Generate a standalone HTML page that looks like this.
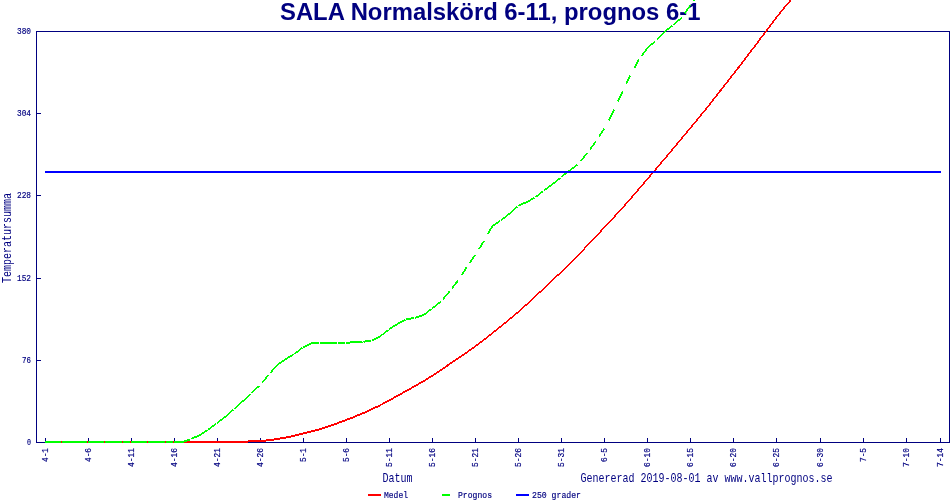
<!DOCTYPE html>
<html lang="sv"><head><meta charset="utf-8"><title>SALA Normalskörd 6-11, prognos 6-1</title>
<style>html,body{margin:0;padding:0;background:#fff;width:950px;height:500px;overflow:hidden}</style></head>
<body>
<svg width="950" height="500" viewBox="0 0 950 500" style="position:absolute;left:0;top:0;display:block">
<rect width="950" height="500" fill="#fff"/>
<g fill="#000080" shape-rendering="crispEdges">
<rect x="36" y="31" width="914" height="1"/>
<rect x="36" y="442" width="914" height="1"/>
<rect x="36" y="31" width="1" height="412"/>
<rect x="949" y="31" width="1" height="412"/>
<rect x="37" y="31" width="4" height="1"/>
<rect x="37" y="113" width="4" height="1"/>
<rect x="37" y="195" width="4" height="1"/>
<rect x="37" y="278" width="4" height="1"/>
<rect x="37" y="360" width="4" height="1"/>
<rect x="37" y="442" width="4" height="1"/>
<rect x="45" y="438" width="1" height="4"/>
<rect x="88" y="438" width="1" height="4"/>
<rect x="131" y="438" width="1" height="4"/>
<rect x="174" y="438" width="1" height="4"/>
<rect x="217" y="438" width="1" height="4"/>
<rect x="260" y="438" width="1" height="4"/>
<rect x="303" y="438" width="1" height="4"/>
<rect x="346" y="438" width="1" height="4"/>
<rect x="389" y="438" width="1" height="4"/>
<rect x="432" y="438" width="1" height="4"/>
<rect x="475" y="438" width="1" height="4"/>
<rect x="518" y="438" width="1" height="4"/>
<rect x="561" y="438" width="1" height="4"/>
<rect x="604" y="438" width="1" height="4"/>
<rect x="647" y="438" width="1" height="4"/>
<rect x="690" y="438" width="1" height="4"/>
<rect x="733" y="438" width="1" height="4"/>
<rect x="776" y="438" width="1" height="4"/>
<rect x="820" y="438" width="1" height="4"/>
<rect x="863" y="438" width="1" height="4"/>
<rect x="906" y="438" width="1" height="4"/>
<rect x="940" y="438" width="1" height="4"/>
</g>
<text fill="#000080" x="280" y="20" font-family="'Liberation Sans',Arial,sans-serif" font-weight="bold" font-size="23.85">SALA Normalskörd 6-11, prognos 6-1</text>
<g stroke="#ff0000" fill="none" shape-rendering="crispEdges"><line x1="45.0" y1="442.0" x2="53.9" y2="442.0" stroke-width="2.00"/><line x1="53.6" y1="442.0" x2="62.5" y2="442.0" stroke-width="2.00"/><line x1="62.2" y1="442.0" x2="71.1" y2="442.0" stroke-width="2.00"/><line x1="70.8" y1="442.0" x2="79.7" y2="442.0" stroke-width="2.00"/><line x1="79.4" y1="442.0" x2="88.3" y2="442.0" stroke-width="2.00"/><line x1="88.0" y1="442.0" x2="96.9" y2="442.0" stroke-width="2.00"/><line x1="96.6" y1="442.0" x2="105.5" y2="442.0" stroke-width="2.00"/><line x1="105.2" y1="442.0" x2="114.1" y2="442.0" stroke-width="2.00"/><line x1="113.8" y1="442.0" x2="122.8" y2="442.0" stroke-width="2.00"/><line x1="122.5" y1="442.0" x2="131.4" y2="442.0" stroke-width="2.00"/><line x1="131.1" y1="442.0" x2="140.0" y2="442.0" stroke-width="2.00"/><line x1="139.7" y1="442.0" x2="148.6" y2="442.0" stroke-width="2.00"/><line x1="148.3" y1="442.0" x2="157.2" y2="442.0" stroke-width="2.00"/><line x1="156.9" y1="442.0" x2="165.8" y2="442.0" stroke-width="2.00"/><line x1="165.5" y1="442.0" x2="174.4" y2="442.0" stroke-width="2.00"/><line x1="174.1" y1="442.0" x2="183.0" y2="442.0" stroke-width="2.00"/><line x1="182.7" y1="442.0" x2="191.6" y2="442.0" stroke-width="2.00"/><line x1="191.3" y1="442.0" x2="200.2" y2="442.0" stroke-width="2.00"/><line x1="199.9" y1="442.0" x2="208.8" y2="442.0" stroke-width="2.00"/><line x1="208.5" y1="442.0" x2="217.4" y2="442.0" stroke-width="2.00"/><line x1="217.1" y1="442.0" x2="226.0" y2="442.0" stroke-width="2.00"/><line x1="225.7" y1="442.0" x2="234.6" y2="442.0" stroke-width="2.00"/><line x1="234.3" y1="442.0" x2="243.2" y2="442.0" stroke-width="2.00"/><line x1="242.9" y1="442.0" x2="251.8" y2="441.1" stroke-width="1.99"/><line x1="251.5" y1="441.2" x2="260.4" y2="441.1" stroke-width="2.00"/><line x1="260.1" y1="441.1" x2="269.0" y2="440.2" stroke-width="1.99"/><line x1="268.8" y1="440.2" x2="277.7" y2="438.9" stroke-width="1.98"/><line x1="277.4" y1="438.9" x2="286.3" y2="437.6" stroke-width="1.98"/><line x1="286.0" y1="437.6" x2="294.9" y2="435.6" stroke-width="1.95"/><line x1="294.6" y1="435.6" x2="303.5" y2="433.4" stroke-width="1.94"/><line x1="303.2" y1="433.5" x2="312.1" y2="431.3" stroke-width="1.94"/><line x1="311.8" y1="431.4" x2="320.7" y2="428.9" stroke-width="1.93"/><line x1="320.4" y1="429.0" x2="329.3" y2="426.2" stroke-width="1.90"/><line x1="329.0" y1="426.3" x2="337.9" y2="423.1" stroke-width="1.89"/><line x1="337.6" y1="423.2" x2="346.5" y2="419.9" stroke-width="1.87"/><line x1="346.2" y1="420.0" x2="355.1" y2="416.5" stroke-width="1.86"/><line x1="354.8" y1="416.6" x2="363.7" y2="412.8" stroke-width="1.84"/><line x1="363.4" y1="413.0" x2="372.3" y2="409.1" stroke-width="1.83"/><line x1="372.0" y1="409.2" x2="380.9" y2="404.9" stroke-width="1.80"/><line x1="380.6" y1="405.0" x2="389.5" y2="400.3" stroke-width="1.76"/><line x1="389.2" y1="400.4" x2="398.1" y2="395.5" stroke-width="1.75"/><line x1="397.8" y1="395.6" x2="406.7" y2="390.7" stroke-width="1.75"/><line x1="406.4" y1="390.9" x2="415.3" y2="385.9" stroke-width="1.75"/><line x1="415.0" y1="386.1" x2="423.9" y2="380.9" stroke-width="1.73"/><line x1="423.7" y1="381.1" x2="432.5" y2="375.6" stroke-width="1.70"/><line x1="432.3" y1="375.8" x2="441.1" y2="369.9" stroke-width="1.67"/><line x1="440.9" y1="370.1" x2="449.7" y2="364.0" stroke-width="1.65"/><line x1="449.5" y1="364.1" x2="458.3" y2="358.1" stroke-width="1.66"/><line x1="458.1" y1="358.3" x2="466.9" y2="352.3" stroke-width="1.66"/><line x1="466.7" y1="352.5" x2="475.5" y2="346.2" stroke-width="1.63"/><line x1="475.3" y1="346.4" x2="484.1" y2="339.7" stroke-width="1.59"/><line x1="483.9" y1="339.9" x2="492.7" y2="332.9" stroke-width="1.57"/><line x1="492.5" y1="333.1" x2="501.3" y2="326.0" stroke-width="1.56"/><line x1="501.1" y1="326.2" x2="509.9" y2="319.0" stroke-width="1.55"/><line x1="509.7" y1="319.2" x2="518.5" y2="311.7" stroke-width="1.52"/><line x1="518.3" y1="311.9" x2="527.1" y2="304.0" stroke-width="1.49"/><line x1="526.9" y1="304.2" x2="535.7" y2="296.0" stroke-width="1.47"/><line x1="535.5" y1="296.2" x2="544.4" y2="288.0" stroke-width="1.46"/><line x1="544.1" y1="288.2" x2="553.0" y2="279.9" stroke-width="1.45"/><line x1="552.7" y1="280.1" x2="561.6" y2="271.6" stroke-width="1.44"/><line x1="561.3" y1="271.8" x2="570.2" y2="263.2" stroke-width="1.43"/><line x1="570.0" y1="263.4" x2="578.8" y2="254.5" stroke-width="1.42"/><line x1="578.6" y1="254.7" x2="587.4" y2="245.5" stroke-width="1.44"/><line x1="587.2" y1="245.7" x2="596.0" y2="236.4" stroke-width="1.46"/><line x1="595.8" y1="236.6" x2="604.6" y2="227.1" stroke-width="1.46"/><line x1="604.4" y1="227.4" x2="613.2" y2="218.0" stroke-width="1.46"/><line x1="613.0" y1="218.2" x2="621.8" y2="208.7" stroke-width="1.47"/><line x1="621.6" y1="208.9" x2="630.4" y2="198.9" stroke-width="1.50"/><line x1="630.2" y1="199.1" x2="639.0" y2="188.8" stroke-width="1.52"/><line x1="638.8" y1="189.0" x2="647.6" y2="178.8" stroke-width="1.52"/><line x1="647.4" y1="179.0" x2="656.2" y2="168.8" stroke-width="1.52"/><line x1="656.0" y1="169.0" x2="664.8" y2="158.6" stroke-width="1.53"/><line x1="664.6" y1="158.8" x2="673.4" y2="148.4" stroke-width="1.53"/><line x1="673.2" y1="148.6" x2="682.0" y2="138.1" stroke-width="1.53"/><line x1="681.8" y1="138.3" x2="690.6" y2="127.8" stroke-width="1.53"/><line x1="690.4" y1="128.0" x2="699.2" y2="117.4" stroke-width="1.54"/><line x1="699.0" y1="117.6" x2="707.8" y2="106.7" stroke-width="1.56"/><line x1="707.6" y1="107.0" x2="716.4" y2="95.8" stroke-width="1.57"/><line x1="716.2" y1="96.0" x2="725.0" y2="84.8" stroke-width="1.58"/><line x1="724.9" y1="85.0" x2="733.6" y2="73.7" stroke-width="1.58"/><line x1="733.5" y1="74.0" x2="742.3" y2="62.6" stroke-width="1.58"/><line x1="742.1" y1="62.9" x2="750.9" y2="51.3" stroke-width="1.59"/><line x1="750.7" y1="51.6" x2="759.5" y2="39.9" stroke-width="1.60"/><line x1="759.3" y1="40.1" x2="768.1" y2="28.5" stroke-width="1.60"/><line x1="767.9" y1="28.7" x2="776.7" y2="17.2" stroke-width="1.59"/><line x1="776.5" y1="17.5" x2="785.3" y2="6.3" stroke-width="1.57"/><line x1="785.1" y1="6.5" x2="793.9" y2="-3.4" stroke-width="1.50"/><line x1="793.7" y1="-3.2" x2="802.5" y2="-9.9" stroke-width="1.59"/><line x1="802.3" y1="-9.7" x2="811.2" y2="-13.1" stroke-width="1.87"/></g>
<g stroke="#00ff00" fill="none" shape-rendering="crispEdges"><line x1="45.0" y1="442.0" x2="53.6" y2="442.0" stroke-width="2.00"/><line x1="53.6" y1="442.0" x2="61.3" y2="442.0" stroke-width="2.00"/><line x1="62.2" y1="442.0" x2="70.8" y2="442.0" stroke-width="2.00"/><line x1="70.8" y1="442.0" x2="78.5" y2="442.0" stroke-width="2.00"/><line x1="79.4" y1="442.0" x2="87.1" y2="442.0" stroke-width="2.00"/><line x1="88.0" y1="442.0" x2="96.6" y2="442.0" stroke-width="2.00"/><line x1="96.6" y1="442.0" x2="104.3" y2="442.0" stroke-width="2.00"/><line x1="105.2" y1="442.0" x2="113.8" y2="442.0" stroke-width="2.00"/><line x1="113.8" y1="442.0" x2="121.5" y2="442.0" stroke-width="2.00"/><line x1="122.5" y1="442.0" x2="130.1" y2="442.0" stroke-width="2.00"/><line x1="131.1" y1="442.0" x2="139.7" y2="442.0" stroke-width="2.00"/><line x1="139.7" y1="442.0" x2="147.3" y2="442.0" stroke-width="2.00"/><line x1="148.3" y1="442.0" x2="156.9" y2="442.0" stroke-width="2.00"/><line x1="156.9" y1="442.0" x2="164.5" y2="442.0" stroke-width="2.00"/><line x1="165.5" y1="442.0" x2="173.1" y2="442.0" stroke-width="2.00"/><line x1="174.1" y1="442.0" x2="182.7" y2="442.0" stroke-width="2.00"/><line x1="182.7" y1="442.0" x2="190.3" y2="439.3" stroke-width="1.89"/><line x1="191.3" y1="439.0" x2="199.9" y2="435.0" stroke-width="1.81"/><line x1="199.9" y1="435.0" x2="207.6" y2="430.1" stroke-width="1.69"/><line x1="208.5" y1="429.5" x2="216.2" y2="423.7" stroke-width="1.60"/><line x1="217.1" y1="423.0" x2="225.7" y2="416.6" stroke-width="1.60"/><line x1="225.7" y1="416.6" x2="233.4" y2="409.7" stroke-width="1.48"/><line x1="234.3" y1="408.8" x2="242.9" y2="401.1" stroke-width="1.49"/><line x1="242.9" y1="401.1" x2="250.6" y2="394.1" stroke-width="1.47"/><line x1="251.5" y1="393.2" x2="259.2" y2="385.9" stroke-width="1.45"/><line x1="268.8" y1="374.8" x2="262.0" y2="382.8" stroke-width="1.53"/><line x1="277.4" y1="364.8" x2="270.5" y2="372.8" stroke-width="1.52"/><line x1="277.4" y1="364.8" x2="286.0" y2="359.0" stroke-width="1.66"/><line x1="286.0" y1="359.0" x2="293.6" y2="354.4" stroke-width="1.71"/><line x1="294.6" y1="353.8" x2="302.2" y2="347.9" stroke-width="1.59"/><line x1="303.2" y1="347.2" x2="311.8" y2="343.0" stroke-width="1.80"/><line x1="311.8" y1="343.0" x2="319.4" y2="343.0" stroke-width="2.00"/><line x1="320.4" y1="343.0" x2="329.0" y2="343.0" stroke-width="2.00"/><line x1="329.0" y1="343.0" x2="336.6" y2="343.0" stroke-width="2.00"/><line x1="337.6" y1="343.0" x2="345.2" y2="343.0" stroke-width="2.00"/><line x1="346.2" y1="343.0" x2="354.8" y2="342.0" stroke-width="1.99"/><line x1="354.8" y1="342.0" x2="362.5" y2="341.7" stroke-width="2.00"/><line x1="363.4" y1="341.7" x2="371.1" y2="340.5" stroke-width="1.98"/><line x1="372.0" y1="340.4" x2="380.6" y2="336.0" stroke-width="1.78"/><line x1="380.6" y1="336.0" x2="388.3" y2="330.0" stroke-width="1.57"/><line x1="389.2" y1="329.2" x2="397.8" y2="323.8" stroke-width="1.69"/><line x1="397.8" y1="323.8" x2="405.5" y2="319.9" stroke-width="1.78"/><line x1="406.4" y1="319.4" x2="414.1" y2="318.0" stroke-width="1.97"/><line x1="415.0" y1="317.8" x2="423.7" y2="315.0" stroke-width="1.90"/><line x1="423.7" y1="315.0" x2="431.3" y2="309.1" stroke-width="1.59"/><line x1="432.3" y1="308.4" x2="440.9" y2="301.6" stroke-width="1.57"/><line x1="449.5" y1="291.5" x2="442.7" y2="299.5" stroke-width="1.52"/><line x1="458.1" y1="280.5" x2="451.8" y2="288.5" stroke-width="1.58"/><line x1="466.7" y1="267.2" x2="461.5" y2="275.2" stroke-width="1.68"/><line x1="475.3" y1="255.0" x2="469.6" y2="263.0" stroke-width="1.63"/><line x1="483.9" y1="241.0" x2="479.0" y2="249.0" stroke-width="1.70"/><line x1="492.5" y1="226.0" x2="487.9" y2="234.0" stroke-width="1.73"/><line x1="492.5" y1="226.0" x2="500.1" y2="220.9" stroke-width="1.67"/><line x1="501.1" y1="220.3" x2="509.7" y2="213.4" stroke-width="1.56"/><line x1="509.7" y1="213.4" x2="517.4" y2="206.6" stroke-width="1.50"/><line x1="518.3" y1="205.8" x2="526.9" y2="202.0" stroke-width="1.83"/><line x1="526.9" y1="202.0" x2="534.6" y2="197.7" stroke-width="1.75"/><line x1="535.5" y1="197.2" x2="543.2" y2="191.1" stroke-width="1.56"/><line x1="544.1" y1="190.3" x2="552.7" y2="184.1" stroke-width="1.62"/><line x1="552.7" y1="184.1" x2="560.4" y2="177.8" stroke-width="1.54"/><line x1="561.3" y1="177.0" x2="570.0" y2="170.2" stroke-width="1.57"/><line x1="570.0" y1="170.2" x2="577.6" y2="164.7" stroke-width="1.62"/><line x1="587.2" y1="153.0" x2="580.9" y2="161.0" stroke-width="1.58"/><line x1="595.8" y1="141.5" x2="589.8" y2="149.5" stroke-width="1.60"/><line x1="604.4" y1="128.5" x2="599.1" y2="136.5" stroke-width="1.67"/><line x1="613.0" y1="112.5" x2="608.7" y2="120.5" stroke-width="1.76"/><line x1="621.6" y1="93.5" x2="618.0" y2="101.5" stroke-width="1.82"/><line x1="614.3" y1="109.5" x2="613.0" y2="112.5" stroke-width="1.82"/><line x1="630.2" y1="75.5" x2="626.4" y2="83.5" stroke-width="1.80"/><line x1="622.5" y1="91.5" x2="621.6" y2="93.5" stroke-width="1.80"/><line x1="638.8" y1="59.6" x2="634.5" y2="67.6" stroke-width="1.76"/><line x1="647.4" y1="48.0" x2="641.5" y2="56.0" stroke-width="1.61"/><line x1="647.4" y1="48.0" x2="655.1" y2="41.3" stroke-width="1.51"/><line x1="664.6" y1="31.7" x2="656.8" y2="39.7" stroke-width="1.43"/><line x1="664.6" y1="31.7" x2="672.3" y2="25.7" stroke-width="1.58"/><line x1="673.2" y1="25.0" x2="681.8" y2="17.6" stroke-width="1.52"/><line x1="690.4" y1="5.2" x2="684.9" y2="13.2" stroke-width="1.64"/><line x1="699.0" y1="-7.0" x2="693.4" y2="1.0" stroke-width="1.63"/><line x1="707.6" y1="-20.0" x2="702.3" y2="-12.0" stroke-width="1.67"/></g>
<rect x="45" y="171" width="896" height="2" fill="#0000ff" shape-rendering="crispEdges"/>
<g shape-rendering="crispEdges">
<rect x="368" y="494" width="13" height="2" fill="#ff0000"/>
<rect x="442" y="494" width="8" height="2" fill="#00ff00"/>
<rect x="516" y="494" width="13" height="2" fill="#0000ff"/>
</g>
<g fill="#000080">
<text x="17.0" y="34" font-family="'Liberation Mono','DejaVu Sans Mono',monospace" font-size="9" stroke="#000080" stroke-width="0.17" textLength="14" lengthAdjust="spacingAndGlyphs">380</text>
<text x="17.0" y="116" font-family="'Liberation Mono','DejaVu Sans Mono',monospace" font-size="9" stroke="#000080" stroke-width="0.17" textLength="14" lengthAdjust="spacingAndGlyphs">304</text>
<text x="17.0" y="198" font-family="'Liberation Mono','DejaVu Sans Mono',monospace" font-size="9" stroke="#000080" stroke-width="0.17" textLength="14" lengthAdjust="spacingAndGlyphs">228</text>
<text x="17.0" y="281" font-family="'Liberation Mono','DejaVu Sans Mono',monospace" font-size="9" stroke="#000080" stroke-width="0.17" textLength="14" lengthAdjust="spacingAndGlyphs">152</text>
<text x="22.0" y="363" font-family="'Liberation Mono','DejaVu Sans Mono',monospace" font-size="9" stroke="#000080" stroke-width="0.17" textLength="9" lengthAdjust="spacingAndGlyphs">76</text>
<text x="27.0" y="445" font-family="'Liberation Mono','DejaVu Sans Mono',monospace" font-size="9" stroke="#000080" stroke-width="0.17" textLength="4" lengthAdjust="spacingAndGlyphs">0</text>
<text transform="translate(48,462) rotate(-90)" font-family="'Liberation Mono','DejaVu Sans Mono',monospace" font-size="9" stroke="#000080" stroke-width="0.17" textLength="14" lengthAdjust="spacingAndGlyphs">4-1</text>
<text transform="translate(91,462) rotate(-90)" font-family="'Liberation Mono','DejaVu Sans Mono',monospace" font-size="9" stroke="#000080" stroke-width="0.17" textLength="14" lengthAdjust="spacingAndGlyphs">4-6</text>
<text transform="translate(134,467) rotate(-90)" font-family="'Liberation Mono','DejaVu Sans Mono',monospace" font-size="9" stroke="#000080" stroke-width="0.17" textLength="19" lengthAdjust="spacingAndGlyphs">4-11</text>
<text transform="translate(177,467) rotate(-90)" font-family="'Liberation Mono','DejaVu Sans Mono',monospace" font-size="9" stroke="#000080" stroke-width="0.17" textLength="19" lengthAdjust="spacingAndGlyphs">4-16</text>
<text transform="translate(220,467) rotate(-90)" font-family="'Liberation Mono','DejaVu Sans Mono',monospace" font-size="9" stroke="#000080" stroke-width="0.17" textLength="19" lengthAdjust="spacingAndGlyphs">4-21</text>
<text transform="translate(263,467) rotate(-90)" font-family="'Liberation Mono','DejaVu Sans Mono',monospace" font-size="9" stroke="#000080" stroke-width="0.17" textLength="19" lengthAdjust="spacingAndGlyphs">4-26</text>
<text transform="translate(306,462) rotate(-90)" font-family="'Liberation Mono','DejaVu Sans Mono',monospace" font-size="9" stroke="#000080" stroke-width="0.17" textLength="14" lengthAdjust="spacingAndGlyphs">5-1</text>
<text transform="translate(349,462) rotate(-90)" font-family="'Liberation Mono','DejaVu Sans Mono',monospace" font-size="9" stroke="#000080" stroke-width="0.17" textLength="14" lengthAdjust="spacingAndGlyphs">5-6</text>
<text transform="translate(392,467) rotate(-90)" font-family="'Liberation Mono','DejaVu Sans Mono',monospace" font-size="9" stroke="#000080" stroke-width="0.17" textLength="19" lengthAdjust="spacingAndGlyphs">5-11</text>
<text transform="translate(435,467) rotate(-90)" font-family="'Liberation Mono','DejaVu Sans Mono',monospace" font-size="9" stroke="#000080" stroke-width="0.17" textLength="19" lengthAdjust="spacingAndGlyphs">5-16</text>
<text transform="translate(478,467) rotate(-90)" font-family="'Liberation Mono','DejaVu Sans Mono',monospace" font-size="9" stroke="#000080" stroke-width="0.17" textLength="19" lengthAdjust="spacingAndGlyphs">5-21</text>
<text transform="translate(521,467) rotate(-90)" font-family="'Liberation Mono','DejaVu Sans Mono',monospace" font-size="9" stroke="#000080" stroke-width="0.17" textLength="19" lengthAdjust="spacingAndGlyphs">5-26</text>
<text transform="translate(564,467) rotate(-90)" font-family="'Liberation Mono','DejaVu Sans Mono',monospace" font-size="9" stroke="#000080" stroke-width="0.17" textLength="19" lengthAdjust="spacingAndGlyphs">5-31</text>
<text transform="translate(607,462) rotate(-90)" font-family="'Liberation Mono','DejaVu Sans Mono',monospace" font-size="9" stroke="#000080" stroke-width="0.17" textLength="14" lengthAdjust="spacingAndGlyphs">6-5</text>
<text transform="translate(650,467) rotate(-90)" font-family="'Liberation Mono','DejaVu Sans Mono',monospace" font-size="9" stroke="#000080" stroke-width="0.17" textLength="19" lengthAdjust="spacingAndGlyphs">6-10</text>
<text transform="translate(693,467) rotate(-90)" font-family="'Liberation Mono','DejaVu Sans Mono',monospace" font-size="9" stroke="#000080" stroke-width="0.17" textLength="19" lengthAdjust="spacingAndGlyphs">6-15</text>
<text transform="translate(736,467) rotate(-90)" font-family="'Liberation Mono','DejaVu Sans Mono',monospace" font-size="9" stroke="#000080" stroke-width="0.17" textLength="19" lengthAdjust="spacingAndGlyphs">6-20</text>
<text transform="translate(779,467) rotate(-90)" font-family="'Liberation Mono','DejaVu Sans Mono',monospace" font-size="9" stroke="#000080" stroke-width="0.17" textLength="19" lengthAdjust="spacingAndGlyphs">6-25</text>
<text transform="translate(823,467) rotate(-90)" font-family="'Liberation Mono','DejaVu Sans Mono',monospace" font-size="9" stroke="#000080" stroke-width="0.17" textLength="19" lengthAdjust="spacingAndGlyphs">6-30</text>
<text transform="translate(866,462) rotate(-90)" font-family="'Liberation Mono','DejaVu Sans Mono',monospace" font-size="9" stroke="#000080" stroke-width="0.17" textLength="14" lengthAdjust="spacingAndGlyphs">7-5</text>
<text transform="translate(909,467) rotate(-90)" font-family="'Liberation Mono','DejaVu Sans Mono',monospace" font-size="9" stroke="#000080" stroke-width="0.17" textLength="19" lengthAdjust="spacingAndGlyphs">7-10</text>
<text transform="translate(943,467) rotate(-90)" font-family="'Liberation Mono','DejaVu Sans Mono',monospace" font-size="9" stroke="#000080" stroke-width="0.17" textLength="19" lengthAdjust="spacingAndGlyphs">7-14</text>
<text transform="translate(11.4,283) rotate(-90)" font-family="'Liberation Mono','DejaVu Sans Mono',monospace" font-size="12.2" textLength="90" lengthAdjust="spacingAndGlyphs">Temperatursumma</text>
<text x="382.5" y="482" font-family="'Liberation Mono','DejaVu Sans Mono',monospace" font-size="12.2" textLength="30" lengthAdjust="spacingAndGlyphs">Datum</text>
<text x="580.5" y="482" font-family="'Liberation Mono','DejaVu Sans Mono',monospace" font-size="12.2" textLength="252" lengthAdjust="spacingAndGlyphs">Genererad 2019-08-01 av www.vallprognos.se</text>
<text x="384" y="498" font-family="'Liberation Mono','DejaVu Sans Mono',monospace" font-size="9" stroke="#000080" stroke-width="0.17" textLength="24" lengthAdjust="spacingAndGlyphs">Medel</text>
<text x="458" y="498" font-family="'Liberation Mono','DejaVu Sans Mono',monospace" font-size="9" stroke="#000080" stroke-width="0.17" textLength="34" lengthAdjust="spacingAndGlyphs">Prognos</text>
<text x="532" y="498" font-family="'Liberation Mono','DejaVu Sans Mono',monospace" font-size="9" stroke="#000080" stroke-width="0.17" textLength="49" lengthAdjust="spacingAndGlyphs">250 grader</text>
</g>
</svg>
</body></html>
